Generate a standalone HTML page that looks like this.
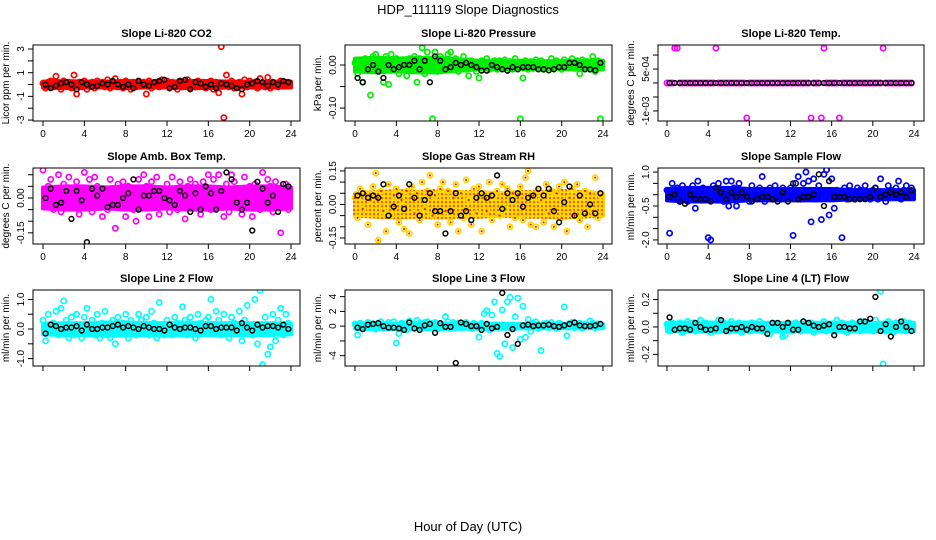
<!DOCTYPE html>
<html><head><meta charset="utf-8"><style>
body{margin:0;background:#fff;}
svg{display:block;font-family:"Liberation Sans",sans-serif;}
</style></head><body>
<svg id="c" width="936" height="540">
<defs>
<pattern id="rhpat" width="4" height="4" patternUnits="userSpaceOnUse"><rect width="4" height="4" fill="#ffd800"/><circle cx="2" cy="2" r="1" fill="#ff3000"/></pattern>
</defs>
<text x="468" y="14" text-anchor="middle" font-size="13">HDP_111119  Slope Diagnostics</text>
<text x="468" y="531" text-anchor="middle" font-size="13">Hour of Day (UTC)</text>
</svg>
<script>
const xTicks=[0,4,8,12,16,20,24];
const bandHours=[0,2,4,6,8,10,12,14,16,18,20,22,24];
const co2Band=[0.25,0.3,0.25,0.25,0.3,0.25,0.25,0.3,0.3,0.25,0.25,0.25,0.25];
const presBand=[0.015,0.017,0.015,0.017,0.017,0.013,0.01,0.01,0.01,0.009,0.009,0.01,0.01];
const tempBand=[0,0,0,0,0,0,0,0,0,0,0,0,0];
const ambBand=[0.045,0.05,0.05,0.045,0.05,0.05,0.045,0.05,0.05,0.045,0.05,0.05,0.045];
const rhBand=[0.05,0.055,0.06,0.055,0.06,0.055,0.055,0.05,0.055,0.055,0.06,0.055,0.05];
const flowBand=[0.25,0.3,0.3,0.3,0.25,0.25,0.25,0.25,0.25,0.2,0.2,0.2,0.2];
const l2Band=[0.18,0.2,0.2,0.22,0.22,0.2,0.2,0.22,0.2,0.2,0.2,0.2,0.18];
const l3Band=[0.35,0.4,0.35,0.4,0.4,0.35,0.35,0.35,0.3,0.28,0.28,0.28,0.28];
const l4Band=[0.03,0.033,0.033,0.033,0.033,0.03,0.03,0.03,0.033,0.03,0.03,0.033,0.03];
const co2Color=[0.1,-0.3,0.2,0.3,-0.2,0.7,0.1,-0.4,0.3,-0.1,0.2,-0.3,0.8,-0.8,0.2,-0.2,0.3,-0.4,0.1,0.2,-0.3,0.3,-0.1,0.2,
-0.2,0.4,-0.3,0.1,0.5,-0.2,0.2,-0.3,0.3,0.1,-0.4,0.2,-0.2,0.3,-0.1,0.2,-0.8,0.3,-0.3,0.1,0.2,-0.2,0.4,-0.1,
0.3,-0.3,0.2,0.1,-0.4,0.3,-0.2,0.2,0.4,-0.3,0.1,-0.2,0.3,-0.1,0.2,-0.3,0.1,0.3,-0.4,0.2,-0.7,3.2,-2.8,0.8,
-0.2,0.3,-0.3,0.1,0.2,-0.8,0.4,-0.2,0.3,-0.1,0.2,-0.3,0.5,0.1,-0.2,0.6,-0.3,0.2,0.1,-0.2,0.3,-0.1,0.2,0.1];
const co2Black=[0,-0.3,-0.1,0.1,0.2,0,-0.4,0.2,0,-0.2,-0.1,0.1,0,0.3,0,-0.2,0,-0.3,0.3,0,-0.1,0.2,0.3,0.4,
-0.3,-0.2,0.3,0.4,-0.4,0.2,0.1,-0.2,0,-0.3,0.1,0,-0.1,-0.3,-0.4,0,0.1,0.3,0.2,-0.1,0.2,0,0.3,0.2];
const presColor=[0.005,-0.02,0.01,-0.04,0.015,-0.01,-0.07,0.02,0.025,-0.015,0.01,-0.04,0.02,-0.045,0.025,-0.01,0.015,-0.02,0.01,0.005,-0.025,0.015,-0.005,0.02,
-0.04,0.015,0.04,-0.02,0.03,0.01,-0.125,0.03,-0.015,0.02,0.005,-0.01,0.025,0.03,-0.01,0.015,-0.015,0.01,0.02,-0.01,-0.025,0.01,0.005,-0.015,
-0.03,0.01,-0.005,0.015,-0.01,0.005,0.01,-0.01,0.01,-0.005,0.012,-0.012,0.008,-0.01,0.015,-0.005,-0.125,-0.03,0.01,-0.01,0.008,-0.008,0.012,-0.005,
0.01,-0.01,0.005,-0.012,0.015,-0.008,0.01,0.005,-0.01,0.012,-0.005,0.008,0.015,-0.008,0.01,-0.02,0.012,-0.005,0.008,-0.01,0.02,-0.015,0.01,-0.125];
const presBlack=[-0.03,-0.04,-0.01,0,-0.015,-0.03,0,-0.01,-0.005,0,0,0.01,-0.01,0.01,-0.04,0.02,0.01,-0.01,-0.005,0.005,0,0.005,0,-0.005,
-0.013,-0.013,0,-0.005,-0.01,-0.013,-0.005,-0.01,-0.005,-0.005,-0.005,-0.01,-0.01,-0.012,-0.01,-0.005,-0.005,0.005,0.005,0,-0.01,-0.01,-0.012,0.005];
const tempColor=[0,0,0,0.00125,0.00125,0,0,0,0,0,0,0,0,0,0,0,0,0,0,0.00125,0,0,0,0,
0,0,0,0,0,0,0,-0.00125,0,0,0,0,0,0,0,0,0,0,0,0,0,0,0,0,
0,0,0,0,0,0,0,0,-0.00125,0,0,0,-0.00125,0.00125,0,0,0,0,0,-0.00125,0,0,0,0,
0,0,0,0,0,0,0,0,0,0,0,0,0.00125,0,0,0,0,0,0,0,0,0,0,0];
const tempBlack=[0,0,0,0,0,0,0,0,0,0,0,0,0,0,0,0,0,0,0,0,0,0,0,0,0,0,0,0,0,0,0,0,0,0,0,0,0,0,0,0,0,0,0,0,0,0,0,0];
const ambColor=[0.12,-0.03,0.05,0.08,-0.05,0.02,0.1,-0.06,0.06,-0.02,0.09,-0.04,0.03,0.07,-0.07,0.04,0.11,-0.02,0.08,-0.06,0.09,0.05,-0.04,-0.08,
0.04,-0.05,0.08,-0.03,-0.13,0.06,-0.02,0.07,-0.08,0.05,0.03,-0.05,-0.1,0.08,-0.03,0.1,0.05,-0.08,0.07,-0.04,0.09,-0.07,0.04,-0.02,
0.06,-0.06,0.09,0.03,-0.05,0.07,-0.03,-0.09,0.05,0.08,-0.04,0.06,0.02,-0.07,0.07,-0.03,0.1,-0.05,0.08,-0.02,0.1,0.04,-0.08,0.06,
-0.06,0.1,0.07,-0.04,0.03,-0.07,0.09,-0.03,0.05,-0.08,0.06,0.02,-0.05,0.11,-0.04,0.08,0.05,-0.06,0.07,-0.03,-0.15,0.04,0.06,-0.05];
const ambBlack=[0,0.04,-0.03,-0.02,0.03,-0.09,0.03,-0.01,-0.19,0.04,0.01,0.04,-0.04,-0.03,-0.03,0,0.02,0.08,-0.05,0.01,0.01,0.03,0.03,0,
-0.01,-0.03,0.03,0.01,-0.06,0.02,-0.05,0.05,0.02,-0.05,0.03,0.11,0.08,-0.02,-0.05,-0.02,-0.14,0.07,0.04,-0.02,0.01,-0.06,0.06,0.05];
const rhColor=[0.03,-0.06,0.07,-0.02,0.05,-0.09,0.02,0.08,0.14,-0.16,0.06,-0.03,-0.12,0.09,-0.05,0.04,0.07,-0.08,0.02,-0.11,0.06,-0.13,0.08,-0.04,
0.05,-0.07,0.1,-0.02,0.06,0.13,-0.05,0.04,-0.09,0.07,0.1,-0.03,0.06,-0.08,0.03,0.09,-0.12,0.05,-0.06,0.11,0.02,-0.09,0.07,-0.04,
0.08,-0.12,0.05,-0.03,0.1,-0.07,0.04,0.06,-0.05,0.09,-0.02,0.07,-0.1,0.05,-0.06,0.03,0.08,-0.07,0.12,0.15,-0.09,0.04,-0.1,0.06,
0.02,-0.08,0.09,-0.04,0.06,-0.1,0.05,0.08,-0.06,0.1,-0.12,0.03,0.07,-0.05,0.09,-0.07,0.04,0.06,-0.1,0.05,-0.03,0.12,-0.06,0.04];
const rhBlack=[0.04,0.05,0.03,0.04,0.03,0.09,-0.05,-0.01,0.04,-0.02,0.09,0.03,-0.05,0.02,0.05,-0.03,-0.03,-0.13,-0.03,0.05,-0.05,-0.03,-0.07,0.03,
0.05,0.03,0.04,0.13,-0.02,0.05,0.02,0.05,-0.01,0.03,0.04,0.07,0.04,0.07,-0.03,-0.08,0.01,0.08,-0.05,0.04,-0.04,0,-0.04,0.05];
const flowColor=[0.2,-1.7,0.5,-0.2,0.3,-0.3,0.4,0.1,-0.3,0.2,0.4,-0.6,0.6,-0.2,0.3,-0.1,-1.9,-2.0,0.4,-0.2,0.5,0.1,-0.3,0.6,
-0.5,0.6,0.3,-0.5,0.5,-0.2,0.2,0.1,-0.3,0.4,0.2,-0.1,0.3,0.8,-0.3,0.2,0.3,-0.2,0.4,0.1,-0.2,0.3,0.2,-0.1,
0.3,-1.8,0.5,0.8,-0.2,0.5,1.0,0.6,-1.2,0.7,-0.2,0.4,-1.1,0.9,1.1,-0.9,0.7,-0.6,0.2,0.1,-1.9,0.3,-0.2,0.4,
0.1,-0.2,0.3,0.2,-0.1,0.4,0.1,-0.2,0.2,0.3,-0.2,0.7,0.1,-0.3,0.4,0.2,-0.1,0.3,0.6,-0.2,0.2,0.4,-0.1,0.3];
const flowBlack=[-0.1,0,-0.3,-0.4,0,-0.2,-0.2,-0.2,-0.3,0.3,0.1,-0.2,0.1,-0.1,0.1,-0.1,-0.3,-0.2,-0.1,-0.1,-0.2,-0.3,0.1,-0.3,
0.5,-0.2,-0.1,-0.1,0,0.9,-0.5,0.6,-0.1,-0.1,-0.1,-0.2,-0.2,-0.2,-0.2,-0.1,0.3,-0.1,0,0.1,0,0.1,-0.1,0.2];
const l2Color=[0.3,-0.4,0.5,-0.1,0.2,0.6,-0.2,0.7,0.95,0.3,-0.3,0.4,-0.2,0.5,0.1,-0.3,0.4,0.7,-0.1,0.3,-0.2,0.5,-0.3,0.2,
0.6,-0.2,-0.3,0.3,-0.5,0.4,-0.1,0.2,0.5,-0.3,0.3,0.1,-0.2,0.5,0.3,-0.1,0.4,-0.2,0.6,0.2,-0.3,0.9,0.1,-0.2,
0.3,0.1,-0.2,0.4,0.2,-0.1,0.75,0.3,-0.2,0.4,0.1,-0.3,0.5,0.2,-0.1,0.3,0.4,1.0,-0.1,0.6,0.3,-0.2,0.5,0.1,
-0.3,0.4,0.2,-0.1,0.6,-0.4,0.3,0.8,0.1,-0.2,1.0,-0.5,1.3,-1.2,0.4,-0.85,-0.6,0.5,-0.4,0.3,0.7,-0.2,0.5,0.2];
const l2Black=[-0.15,0.15,0.1,0,0.05,0.05,0.1,-0.05,0.15,0,0,0.05,0.05,0.1,0.15,0.05,0.1,0.05,0,0.1,0.05,0,0,-0.05,
0.15,0.05,0,0.05,0.05,0,-0.05,0.1,0.1,0,0.05,0.05,0.05,-0.05,0.2,0.05,-0.05,0.15,0.05,0.1,0.1,0.05,0.15,0];
const l3Color=[0.3,-1.2,0.4,-0.3,0.2,0.5,-0.2,0.3,-0.4,0.4,0.6,-0.3,0.2,0.5,-0.2,0.6,-2.3,-1,0.4,0.3,-0.5,0.7,0.2,-0.3,
0.8,0.4,-0.3,0.5,0.6,-0.2,0.4,0.5,-0.4,0.3,-0.2,1.3,0.6,-0.3,0.5,0.3,0.4,-0.2,0.3,0.5,0.2,-0.3,0.4,0.2,
-1.5,0.4,1.7,2.1,-0.5,1.5,3.3,-3.7,-4.1,2.2,-2.4,3.3,3.9,-2.9,1.3,3.8,-1.8,2.7,-1.5,0.9,-0.7,0.4,0.6,-0.3,
-3.3,0.3,0.4,-0.2,0.5,0.2,-0.3,0.4,0.2,2.6,-1.3,0.3,0.5,-0.2,0.2,0.4,-0.3,0.3,0.2,0.7,0.4,-0.2,0.3,0.2];
const l3Black=[-0.2,-0.4,0.2,0.3,0.4,0,-0.2,-0.2,-0.3,-0.5,0.5,-0.3,-0.5,0.1,0.3,-0.9,0.4,-0.1,-0.1,-5.0,0.5,0.3,0,0,
-0.5,0.3,-0.3,-0.1,4.5,-1.2,-0.4,-2.4,0.1,0.2,0,0.1,0.1,0.2,0,-0.1,0.1,0.3,0.5,0.1,0,0,0.1,0.3];
const l4Color=[0.02,-0.03,0.03,-0.02,0.01,0.03,-0.04,0.02,0.04,-0.01,0.03,-0.03,0.02,0.05,-0.02,0.03,0.01,-0.04,0.02,-0.03,0.05,-0.02,0.03,0.01,
-0.03,0.04,-0.01,0.02,0.03,-0.04,0.02,0.01,-0.03,0.03,-0.02,0.02,0.04,-0.03,0.01,0.02,-0.05,0.03,-0.02,0.02,0.01,-0.07,-0.06,0.03,
0.02,-0.03,0.03,0.01,-0.03,0.04,-0.02,0.02,0.03,-0.04,0.02,0.01,-0.02,0.04,-0.03,0.02,0.01,-0.03,0.05,-0.02,0.03,0.01,-0.04,0.02,
0.03,-0.02,0.02,-0.03,0.04,0.01,-0.02,0.03,-0.03,0.05,0.02,0.26,-0.27,-0.03,0.04,0.02,-0.04,0.03,-0.02,0.01,0.04,-0.03,0.03,0.02];
const l4Black=[0.07,-0.02,-0.01,-0.01,-0.02,0.03,0,-0.02,-0.02,-0.01,0.05,-0.03,-0.01,-0.01,0,-0.02,0,-0.01,-0.01,-0.05,0.03,0.03,0,0.03,
-0.02,-0.02,0.04,0.03,0.01,0,0.01,0.02,-0.06,0,0,-0.01,-0.01,0.04,0.04,0.06,0.22,-0.03,0.02,-0.07,0,0.04,0,-0.03];

const panels=[
 {name:'co2',title:'Slope Li-820 CO2',yl:'Licor ppm per min.',c:co2Color,b:co2Black,band:co2Band,col:'#ff0000',ymin:-3.08,ymax:3.34,ticks:[-3,-2,-1,0,1,2,3],labs:{'-3':'-3','-1':'-1','1':'1','3':'3'}},
 {name:'pressure',title:'Slope Li-820 Pressure',yl:'kPa per min.',c:presColor,b:presBlack,band:presBand,col:'#00ee00',ymin:-0.130,ymax:0.0465,ticks:[-0.1,-0.05,0],labs:{'-0.1':'-0.10','0':'0.00'}},
 {name:'temp',title:'Slope Li-820 Temp.',yl:'degrees C per min.',c:tempColor,b:tempBlack,band:tempBand,col:'#ff00ff',ymin:-0.00136,ymax:0.00136,ticks:[-0.001,-0.0005,0,0.0005,0.001],labs:{'-0.001':'-1e-03','0.0005':'5e-04'}},
 {name:'amb-temp',title:'Slope Amb. Box Temp.',yl:'degrees C per min.',c:ambColor,b:ambBlack,band:ambBand,col:'#ff00ff',ymin:-0.198,ymax:0.129,ticks:[-0.15,-0.1,-0.05,0,0.05,0.1],labs:{'-0.15':'-0.15','0':'0.00'}},
 {name:'rh',title:'Slope Gas Stream RH',yl:'percent per min.',c:rhColor,b:rhBlack,band:rhBand,col:'#ffd800',bandCol:'url(#rhpat)',ymin:-0.177,ymax:0.163,ticks:[-0.15,-0.1,-0.05,0,0.05,0.1,0.15],labs:{'-0.15':'-0.15','0':'0.00','0.15':'0.15'}},
 {name:'sample-flow',title:'Slope Sample Flow',yl:'ml/min per min.',c:flowColor,b:flowBlack,band:flowBand,col:'#0000ff',ymin:-2.18,ymax:1.18,ticks:[-2,-1.5,-1,-0.5,0,0.5,1],labs:{'-2':'-2.0','-0.5':'-0.5','1':'1.0'}},
 {name:'line2-flow',title:'Slope Line 2 Flow',yl:'ml/min per min.',c:l2Color,b:l2Black,band:l2Band,col:'#00ffff',ymin:-1.25,ymax:1.32,ticks:[-1,-0.5,0,0.5,1],labs:{'-1':'-1.0','0':'0.0','1':'1.0'}},
 {name:'line3-flow',title:'Slope Line 3 Flow',yl:'ml/min per min.',c:l3Color,b:l3Black,band:l3Band,col:'#00ffff',ymin:-5.4,ymax:4.9,ticks:[-4,-2,0,2,4],labs:{'-4':'-4','0':'0','2':'2','4':'4'}},
 {name:'line4-flow',title:'Slope Line 4 (LT) Flow',yl:'ml/min per min.',c:l4Color,b:l4Black,band:l4Band,col:'#00ffff',ymin:-0.285,ymax:0.27,ticks:[-0.2,-0.1,0,0.1,0.2],labs:{'-0.2':'-0.2','0':'0.0','0.2':'0.2'}}
];
const colL=[33,345,658], colR=[300,612,924], x0s=[43,355,667], x24s=[291,603,914];
const rowT=[45,168,290], rowB=[121,244,366];
const NS='http://www.w3.org/2000/svg';
const svg=document.getElementById('c');
function mk(tag,attrs,parent){const e=document.createElementNS(NS,tag);for(const k in attrs)e.setAttribute(k,attrs[k]);(parent||svg).appendChild(e);return e;}
panels.forEach((p,i)=>{
 const r=Math.floor(i/3), cI=i%3;
 const L=colL[cI],R=colR[cI],T=rowT[r],B=rowB[r];
 const xs=v=>x0s[cI]+(x24s[cI]-x0s[cI])*v/24;
 const ys=v=>B-(v-p.ymin)/(p.ymax-p.ymin)*(B-T);
 const g=mk('g',{});
 
 
 const clip=mk('clipPath',{id:'cl'+i},g);
 mk('rect',{x:L,y:T,width:R-L,height:B-T},clip);
 const pts=mk('g',{'clip-path':'url(#cl'+i+')'},g);
 
 
 if(p.band.some(v=>v>0)){
  let d='';
  bandHours.forEach((h,k)=>{d+=(k?'L':'M')+xs(h)+' '+ys(p.band[k]);});
  for(let k=bandHours.length-1;k>=0;k--){d+='L'+xs(bandHours[k])+' '+ys(-p.band[k]);}
  const band=mk('path',{d:d+'Z',fill:p.bandCol||p.col,stroke:p.bandCol||p.col,'stroke-width':4,'stroke-linejoin':'round'},pts);
  
  
 }
 p.c.forEach((v,k)=>{
  const c=mk('circle',{cx:xs(k*0.25),cy:ys(v),r:2.6,fill:'none',stroke:p.col,'stroke-width':1.7},pts);
  
  
  if(p.name==='rh'){mk('circle',{cx:xs(k*0.25),cy:ys(v),r:1.1,fill:'#ff2000'},pts);}
 });
 p.b.forEach((v,k)=>{
  const c=mk('circle',{cx:xs(k*0.5+0.25),cy:ys(v),r:2.4,fill:'none',stroke:'#000','stroke-width':1.5},pts);
  
  
 });
 const box=mk('rect',{x:L,y:T,width:R-L,height:B-T,fill:'none',stroke:'#000','stroke-width':1},g);
 
 
 const t=mk('text',{x:(L+R)/2,y:T-8,'text-anchor':'middle','font-size':11,'font-weight':'bold'},g);
 t.textContent=p.title;
 
 
 xTicks.forEach(v=>{
  mk('line',{x1:xs(v),x2:xs(v),y1:B,y2:B+5,stroke:'#000'},g);
  if(r<2){const tx=mk('text',{x:xs(v),y:B+16,'text-anchor':'middle','font-size':10},g);tx.textContent=v;
   
   }
 });
 mk('line',{x1:xs(0),x2:xs(24),y1:B,y2:B,stroke:'#000'},g);
 p.ticks.forEach(v=>{
  mk('line',{x1:L-5,x2:L,y1:ys(v),y2:ys(v),stroke:'#000'},g);
  const lab=p.labs[String(v)];
  if(lab){const ty=mk('text',{x:L-9,y:ys(v),'text-anchor':'middle','font-size':10,transform:'rotate(-90 '+(L-9)+' '+ys(v)+')'},g);ty.textContent=lab;
   
   }
 });
 const yl=mk('text',{x:L-24,y:(T+B)/2,'text-anchor':'middle','font-size':10,transform:'rotate(-90 '+(L-24)+' '+(T+B)/2+')'},g);
 yl.textContent=p.yl;
 
 
});
</script>
</body></html>
